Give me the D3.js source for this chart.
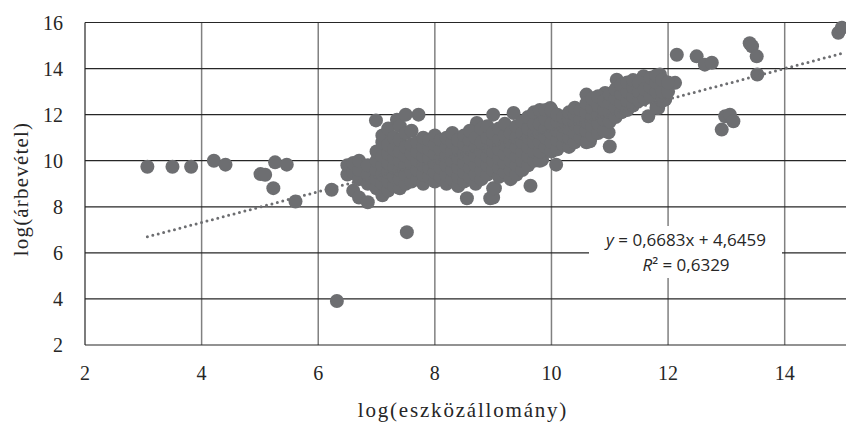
<!DOCTYPE html>
<html>
<head>
<meta charset="utf-8">
<script src="https://cdn.jsdelivr.net/npm/d3@7"></script>
<style>
  body { margin: 0; background: #fff; }
  svg { display: block; }
</style>
</head>
<body>
<div id="chart"></div>
<script>
// tick labels
const xTicks = [2, 4, 6, 8, 10, 12, 14];
const yTicks = [2, 4, 6, 8, 10, 12, 14, 16];

// isolated points [log(eszközállomány), log(árbevétel)]
const outlierPoints = [
    [3.07, 9.74], [3.50, 9.74], [3.82, 9.74], [4.21, 10.0], [4.41, 9.83],
    [5.01, 9.42], [5.09, 9.39], [5.23, 8.81], [5.26, 9.93], [5.46, 9.83],
    [5.61, 8.23], [6.23, 8.74], [6.32, 3.91], [7.52, 6.9], [6.99, 11.75],
    [8.55, 8.37], [8.95, 8.37], [9.03, 8.81], [9.64, 8.91], [9.84, 10.04],
    [10.08, 9.83], [10.66, 10.84], [10.98, 11.23], [11.0, 10.62],
    [11.66, 11.93], [11.83, 12.29], [11.95, 12.65], [12.12, 13.38],
    [11.86, 13.74], [12.15, 14.6], [12.49, 14.53], [12.63, 14.17], [12.75, 14.25],
    [12.92, 11.35], [12.98, 11.93], [13.06, 12.0], [13.12, 11.71],
    [13.40, 15.1], [13.44, 14.97], [13.52, 14.53], [13.53, 13.74],
    [14.92, 15.55], [14.98, 15.77],
    [7.35, 11.78], [7.72, 12.0], [8.72, 11.64], [9.35, 12.07], [9.98, 12.29],
    [10.38, 12.14], [10.6, 12.87], [10.92, 12.94], [11.12, 13.52], [11.58, 13.67]
];

// dense cluster, read column by column
const clusterColumns = [
    { x: 6.5, ys: [9.4, 9.8] },
    { x: 6.6, ys: [8.7, 9.5, 9.9] },
    { x: 6.7, ys: [8.4, 9.2, 9.6, 10.0] },
    { x: 6.85, ys: [8.2, 9.0, 9.4, 9.8] },
    { x: 7.0, ys: [8.8, 9.2, 9.6, 10.0, 10.4] },
    { x: 7.1, ys: [8.5, 9.0, 9.4, 9.8, 10.2, 10.8, 11.1] },
    { x: 7.2, ys: [8.7, 9.1, 9.5, 9.9, 10.3, 10.7, 11.4] },
    { x: 7.3, ys: [8.9, 9.3, 9.7, 10.1, 10.5, 11.0] },
    { x: 7.4, ys: [8.8, 9.2, 9.6, 10.0, 10.4, 10.9, 11.5] },
    { x: 7.5, ys: [9.0, 9.4, 9.8, 10.2, 10.6, 11.2, 12.0] },
    { x: 7.6, ys: [9.1, 9.5, 9.9, 10.3, 10.7, 11.3] },
    { x: 7.7, ys: [9.2, 9.6, 10.0, 10.4, 10.8] },
    { x: 7.8, ys: [9.0, 9.4, 9.8, 10.2, 10.6, 11.0] },
    { x: 7.9, ys: [9.3, 9.7, 10.1, 10.5, 10.9] },
    { x: 8.0, ys: [9.1, 9.5, 9.9, 10.3, 10.7, 11.1] },
    { x: 8.1, ys: [9.3, 9.7, 10.1, 10.5, 10.9] },
    { x: 8.2, ys: [9.0, 9.4, 9.8, 10.2, 10.6, 11.0] },
    { x: 8.3, ys: [9.2, 9.6, 10.0, 10.4, 10.8, 11.2] },
    { x: 8.4, ys: [8.9, 9.3, 9.7, 10.1, 10.5, 10.9] },
    { x: 8.5, ys: [9.1, 9.5, 9.9, 10.3, 10.7, 11.1] },
    { x: 8.6, ys: [9.3, 9.7, 10.1, 10.5, 10.9, 11.3] },
    { x: 8.7, ys: [9.0, 9.4, 9.8, 10.2, 10.6, 11.0] },
    { x: 8.8, ys: [9.2, 9.6, 10.0, 10.4, 10.8, 11.4] },
    { x: 8.9, ys: [9.4, 9.8, 10.2, 10.6, 11.0, 11.5] },
    { x: 9.0, ys: [8.4, 8.8, 9.6, 10.0, 10.4, 10.8, 11.2, 12.0] },
    { x: 9.1, ys: [9.3, 9.7, 10.1, 10.5, 10.9, 11.4] },
    { x: 9.2, ys: [9.5, 9.9, 10.3, 10.7, 11.1, 11.6] },
    { x: 9.3, ys: [9.2, 9.6, 10.0, 10.4, 10.8, 11.2] },
    { x: 9.4, ys: [9.4, 9.8, 10.2, 10.6, 11.0, 11.5] },
    { x: 9.5, ys: [9.6, 10.0, 10.4, 10.8, 11.2, 11.7] },
    { x: 9.6, ys: [9.8, 10.2, 10.6, 11.0, 11.4, 11.9] },
    { x: 9.7, ys: [10.0, 10.4, 10.8, 11.2, 11.6, 12.1] },
    { x: 9.8, ys: [10.0, 10.4, 10.8, 11.2, 11.6, 12.2] },
    { x: 9.9, ys: [10.6, 11.0, 11.4, 11.8, 12.2] },
    { x: 10.0, ys: [10.4, 10.8, 11.2, 11.6, 12.2] },
    { x: 10.1, ys: [10.5, 10.9, 11.3, 11.7, 12.0] },
    { x: 10.2, ys: [10.7, 11.1, 11.5, 11.9] },
    { x: 10.3, ys: [10.6, 11.0, 11.4, 11.8, 12.1] },
    { x: 10.4, ys: [10.8, 11.2, 11.6, 12.0, 12.3] },
    { x: 10.5, ys: [11.0, 11.4, 11.8, 12.2] },
    { x: 10.6, ys: [10.8, 11.3, 11.7, 12.1, 12.5] },
    { x: 10.7, ys: [11.1, 11.5, 11.9, 12.3, 12.7] },
    { x: 10.8, ys: [11.2, 11.6, 12.0, 12.4, 12.8] },
    { x: 10.9, ys: [11.3, 11.8, 12.2, 12.6] },
    { x: 11.0, ys: [11.7, 12.1, 12.5, 12.9] },
    { x: 11.1, ys: [11.9, 12.3, 12.7, 13.1] },
    { x: 11.2, ys: [12.1, 12.5, 12.9, 13.3] },
    { x: 11.3, ys: [12.2, 12.6, 13.0, 13.4] },
    { x: 11.4, ys: [12.4, 12.8, 13.2, 13.5] },
    { x: 11.5, ys: [12.6, 13.0, 13.4] },
    { x: 11.6, ys: [12.7, 13.1] },
    { x: 11.7, ys: [12.8, 13.2, 13.6] },
    { x: 11.8, ys: [12.3, 13.0, 13.4, 13.7] },
    { x: 11.9, ys: [12.6, 13.0, 13.5] },
    { x: 12.0, ys: [13.0, 13.4] }
];

// linear trendline
const trendSlope = 0.6683;
const trendIntercept = 4.6459;
const trendRange = [3.07, 15];
const trendLabel = ["y = 0,6683x + 4,6459", "R² = 0,6329"];

const width = 846;
const height = 426;
const markColor = "#6d6e71";

const svg = d3.select("#chart")
    .append("svg")
    .attr("width", width)
    .attr("height", height);

const x = d3.scaleLinear().domain([2, 15]).range([85, 843]);
const y = d3.scaleLinear().domain([2, 16]).range([345, 22.5]);

// gridlines
svg.append("g")
    .selectAll("line")
    .data(xTicks.filter(d => d > 2))
    .enter().append("line")
    .attr("x1", d => x(d)).attr("x2", d => x(d))
    .attr("y1", y(16)).attr("y2", y(2))
    .attr("stroke", "#808080")
    .attr("stroke-width", 1.5);

svg.append("g")
    .selectAll("line")
    .data(yTicks)
    .enter().append("line")
    .attr("x1", x(2)).attr("x2", width)
    .attr("y1", d => y(d)).attr("y2", d => y(d))
    .attr("stroke", "#262626")
    .attr("stroke-width", 1.2);

svg.append("line")
    .attr("x1", x(2)).attr("x2", x(2))
    .attr("y1", y(16)).attr("y2", y(2))
    .attr("stroke", "#262626")
    .attr("stroke-width", 1.2);

// points
const points = outlierPoints.slice();
clusterColumns.forEach(c => c.ys.forEach(v => points.push([c.x, v])));

svg.append("g")
    .selectAll("circle")
    .data(points)
    .enter().append("circle")
    .attr("cx", d => x(d[0]))
    .attr("cy", d => y(d[1]))
    .attr("r", 7)
    .attr("fill", markColor);

// trendline
svg.append("path")
    .datum(trendRange)
    .attr("fill", "none")
    .attr("stroke", markColor)
    .attr("stroke-width", 3)
    .attr("stroke-linecap", "round")
    .attr("stroke-dasharray", "0,5.6")
    .attr("d", d3.line()
        .x(d => x(d))
        .y(d => y(trendSlope * d + trendIntercept)));

// equation label
svg.append("rect")
    .attr("x", 589).attr("y", 226)
    .attr("width", 193).attr("height", 52)
    .attr("fill", "#fff");

const eq = svg.append("text")
    .attr("x", 686).attr("y", 246)
    .attr("text-anchor", "middle")
    .style("font-family", "'Open Sans', sans-serif")
    .style("font-size", "17px")
    .attr("fill", "#262626");
eq.append("tspan").style("font-style", "italic").text("y");
eq.append("tspan").text(trendLabel[0].slice(1));

const r2 = svg.append("text")
    .attr("x", 686).attr("y", 271)
    .attr("text-anchor", "middle")
    .style("font-family", "'Open Sans', sans-serif")
    .style("font-size", "17px")
    .attr("fill", "#262626");
r2.append("tspan").style("font-style", "italic").text("R");
r2.append("tspan").text(trendLabel[1].slice(1));

// tick labels
svg.append("g")
    .selectAll("text")
    .data(yTicks)
    .enter().append("text")
    .attr("x", 63)
    .attr("y", d => y(d))
    .attr("dy", "0.35em")
    .attr("text-anchor", "end")
    .style("font-family", "'Liberation Serif', serif")
    .style("font-size", "20px")
    .attr("fill", "#262626")
    .text(d => d);

svg.append("g")
    .selectAll("text")
    .data(xTicks)
    .enter().append("text")
    .attr("x", d => x(d))
    .attr("y", 380)
    .attr("text-anchor", "middle")
    .style("font-family", "'Liberation Serif', serif")
    .style("font-size", "20px")
    .attr("fill", "#262626")
    .text(d => d);

// axis titles
svg.append("text")
    .attr("x", 463)
    .attr("y", 417)
    .attr("text-anchor", "middle")
    .style("font-family", "'Liberation Serif', serif")
    .style("font-size", "21px")
    .style("letter-spacing", "1.8px")
    .attr("fill", "#262626")
    .text("log(eszközállomány)");

svg.append("text")
    .attr("transform", "translate(28,189) rotate(-90)")
    .attr("text-anchor", "middle")
    .style("font-family", "'Liberation Serif', serif")
    .style("font-size", "21px")
    .style("letter-spacing", "1.2px")
    .attr("fill", "#262626")
    .text("log(árbevétel)");
</script>
</body>
</html>
